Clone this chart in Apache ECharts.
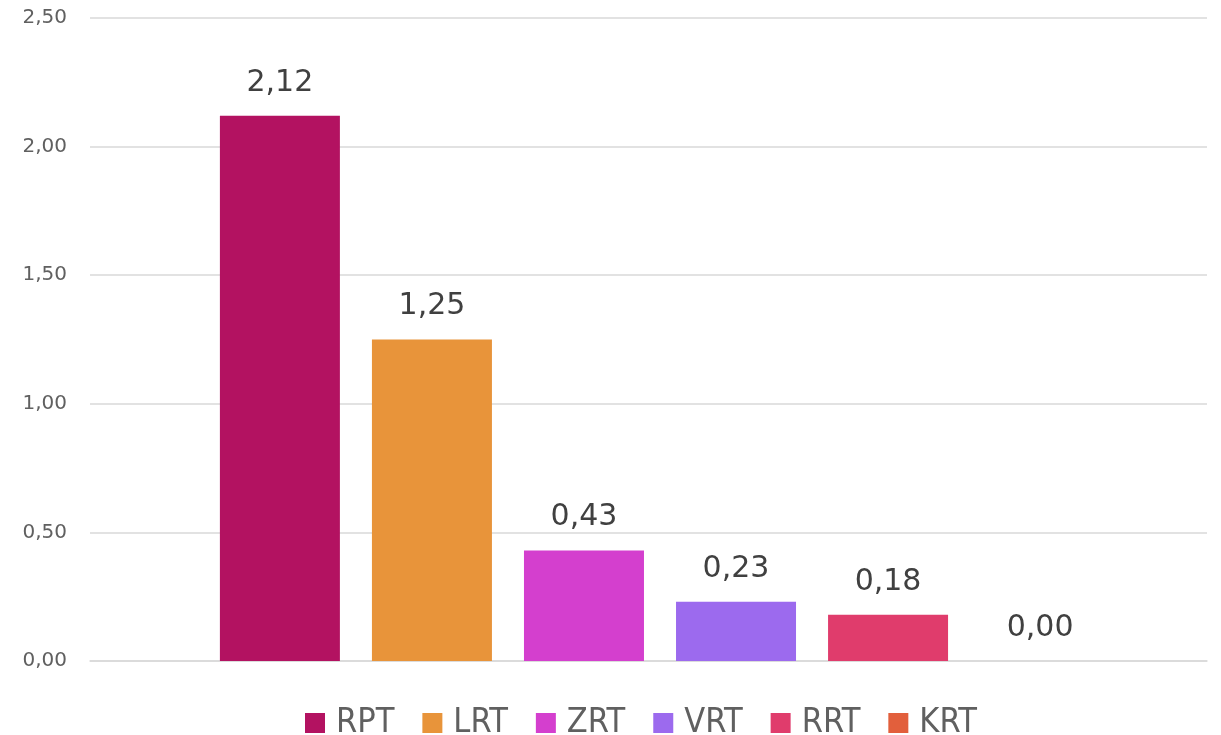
<!DOCTYPE html>
<html>
<head>
<meta charset="utf-8">
<script src="https://cdn.jsdelivr.net/npm/echarts@6/dist/echarts.min.js"></script>
<style>
  html, body { margin: 0; padding: 0; background: #fff; }
  #main { width: 1221px; height: 735px; }
</style>
</head>
<body>
<div id="main"></div>
<script>
  // data
  const seriesNames = ['RPT', 'LRT', 'ZRT', 'VRT', 'RRT', 'KRT']
  const seriesValues = [2.12, 1.25, 0.43, 0.23, 0.18, 0.00]
  const seriesColors = ['#B31261', '#E8943A', '#D43FCE', '#9C6AEE', '#E03C6C', '#E25F3C']
  const categories = ['']
  const yMin = 0
  const yMax = 2.5
  const yStep = 0.5

  const fmt = v => Number(v).toFixed(2).replace('.', ',')
  const font = '"DejaVu Sans", sans-serif'

  let chart = echarts.init(document.getElementById('main'))
  chart.setOption({
    animation: false,
    textStyle: { fontFamily: font },
    // grid 0 draws the gridlines and tick labels, grid 1 holds the bars
    grid: [
      { left: 90, right: 14, top: 18, bottom: 74 },
      { left: 99, right: 0, top: 18, bottom: 74 }
    ],
    legend: {
      top: 701,
      left: 300,
      data: seriesNames,
      icon: 'rect',
      itemWidth: 20,
      itemHeight: 20,
      itemGap: 28,
      textStyle: {
        fontSize: 34,
        color: '#606060',
        fontFamily: '"DejaVu Sans Condensed", "Liberation Sans Narrow", sans-serif',
        padding: [0, 0, 0, 6]
      }
    },
    xAxis: [
      {
        type: 'category',
        gridIndex: 0,
        data: categories,
        axisLine: { lineStyle: { color: '#d9d9d9', width: 1.5 } },
        axisTick: { show: false },
        axisLabel: { show: false }
      },
      {
        type: 'category',
        gridIndex: 1,
        data: categories,
        axisLine: { show: false },
        axisTick: { show: false },
        axisLabel: { show: false }
      }
    ],
    yAxis: [
      {
        type: 'value',
        gridIndex: 0,
        min: yMin,
        max: yMax,
        interval: yStep,
        axisLine: { show: false },
        axisTick: { show: false },
        splitLine: { lineStyle: { color: '#d9d9d9', width: 1.5 } },
        axisLabel: {
          formatter: fmt,
          fontSize: 20,
          color: '#606060',
          margin: 23
        }
      },
      {
        type: 'value',
        gridIndex: 1,
        min: yMin,
        max: yMax,
        interval: yStep,
        axisLine: { show: false },
        axisTick: { show: false },
        splitLine: { show: false },
        axisLabel: { show: false }
      }
    ],
    series: seriesNames.map((name, i) => ({
      name: name,
      type: 'bar',
      xAxisIndex: 1,
      yAxisIndex: 1,
      data: [seriesValues[i]],
      barWidth: 120,
      barGap: '26.7%',
      itemStyle: { color: seriesColors[i] },
      label: {
        show: true,
        position: 'top',
        distance: 18,
        formatter: p => fmt(p.value),
        fontSize: 30,
        color: '#404040',
        fontFamily: font
      }
    }))
  })
</script>
</body>
</html>
